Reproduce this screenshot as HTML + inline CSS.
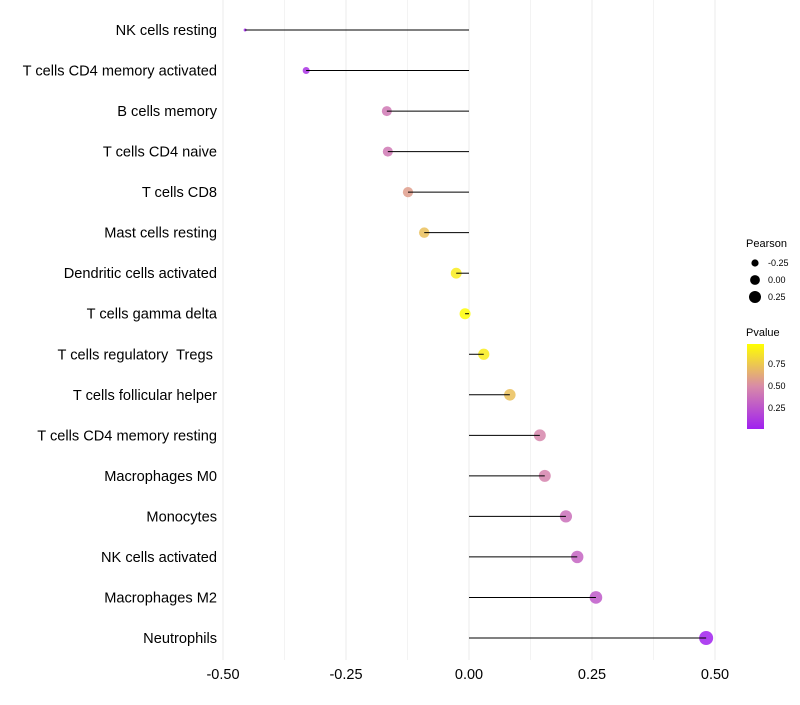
<!DOCTYPE html>
<html><head><meta charset="utf-8"><style>
body{margin:0;background:#fff;font-family:"Liberation Sans",sans-serif}
text{white-space:pre}
</style></head><body>
<svg id="chart" width="800" height="700" xmlns="http://www.w3.org/2000/svg">
<defs><linearGradient id="pg" x1="0" y1="1" x2="0" y2="0">
<stop offset="0" stop-color="#a020f0"/><stop offset="0.5" stop-color="#d88aa8"/><stop offset="1" stop-color="#ffff00"/></linearGradient></defs>
<g id="grid"></g><g id="marks"></g><g id="labels"></g>
<g font-size="10">
<text x="746" y="247" font-size="11">Pearson</text>
<circle cx="755" cy="263" r="3.6" fill="#000"/><text x="768" y="266" font-size="9">-0.25</text>
<circle cx="755" cy="280" r="4.9" fill="#000"/><text x="768" y="283" font-size="9">0.00</text>
<circle cx="755" cy="297" r="6" fill="#000"/><text x="768" y="300" font-size="9">0.25</text>
</g>
<g>
<text x="746" y="336" font-size="11">Pvalue</text>
<rect x="747" y="344" width="17" height="85" fill="url(#pg)"/>
<text x="768" y="367" font-size="9">0.75</text>
<text x="768" y="389" font-size="9">0.50</text>
<text x="768" y="411" font-size="9">0.25</text>
</g>
</svg>
<script>
const categories=["NK cells resting","T cells CD4 memory activated","B cells memory","T cells CD4 naive","T cells CD8","Mast cells resting","Dendritic cells activated","T cells gamma delta","T cells regulatory  Tregs ","T cells follicular helper","T cells CD4 memory resting","Macrophages M0","Monocytes","NK cells activated","Macrophages M2","Neutrophils"];
const pearson=[-0.455,-0.331,-0.167,-0.165,-0.124,-0.091,-0.026,-0.008,0.030,0.083,0.144,0.154,0.197,0.220,0.258,0.482];
const pvalues=[0.05,0.1,0.42,0.42,0.58,0.72,0.9,0.97,0.9,0.72,0.48,0.47,0.38,0.33,0.28,0.03];
const xTicks=[-0.5,-0.25,0,0.25,0.5];
const xTickLabels=["-0.50","-0.25","0.00","0.25","0.50"];
const ns="http://www.w3.org/2000/svg";
function xs(v){return 469+v*492;}
function ys(i){return 30+i*(608/15);}
const sizeKnots=[[-0.5,1],[-0.455,1.5],[-0.331,3.5],[-0.167,5],[0.48,7],[1,8]];
function rs(v){for(let k=0;k<sizeKnots.length-1;k++){const a=sizeKnots[k],b=sizeKnots[k+1];if(v<=b[0]){const u=Math.max(0,(v-a[0])/(b[0]-a[0]));return a[1]+(b[1]-a[1])*u;}}return 8;}
function hex(c){return [parseInt(c.slice(1,3),16),parseInt(c.slice(3,5),16),parseInt(c.slice(5,7),16)];}
function col(p){const s=[[0,"#a020f0"],[0.5,"#d88aa8"],[1,"#ffff00"]];const t=Math.max(0,Math.min(1,(p-0.02)/0.96));
let a=s[0],b=s[1];if(t>0.5){a=s[1];b=s[2];}const u=(t-a[0])/(b[0]-a[0]);const A=hex(a[1]),B=hex(b[1]);
return "rgb("+A.map((x,k)=>Math.round(x+(B[k]-x)*u)).join(",")+")";}
function mk(tag,at,parent){const e=document.createElementNS(ns,tag);for(const k in at)e.setAttribute(k,at[k]);parent.appendChild(e);return e;}
const grid=document.getElementById("grid"),marks=document.getElementById("marks"),labels=document.getElementById("labels");
for(let i=0;i<xTicks.length;i++){
 const g=mk("line",{x1:xs(xTicks[i]),x2:xs(xTicks[i]),y1:0,y2:660,stroke:"#ebebeb","stroke-width":1},grid);
 
 
 if(i<xTicks.length-1){const m=(xTicks[i]+xTicks[i+1])/2;const g2=mk("line",{x1:xs(m),x2:xs(m),y1:0,y2:660,stroke:"#f3f3f3","stroke-width":1},grid);
 
 }
 const t=mk("text",{x:xs(xTicks[i]),y:679,"text-anchor":"middle","font-size":14.5,fill:"#000"},labels);t.textContent=xTickLabels[i];
 
 
}
categories.forEach((c,i)=>{
 const y=ys(i);
 const t=mk("text",{x:217,y:y+5,"text-anchor":"end","font-size":14.6,fill:"#000"},labels);t.textContent=c;
 
 
 const p=mk("circle",{cx:xs(pearson[i]),cy:y,r:rs(pearson[i]),fill:col(pvalues[i]),"fill-opacity":0.85},marks);
 
 
 const l=mk("line",{x1:xs(0),x2:xs(pearson[i]),y1:y,y2:y,stroke:"#000","stroke-width":1},marks);
 
 
});
</script>
</body></html>
